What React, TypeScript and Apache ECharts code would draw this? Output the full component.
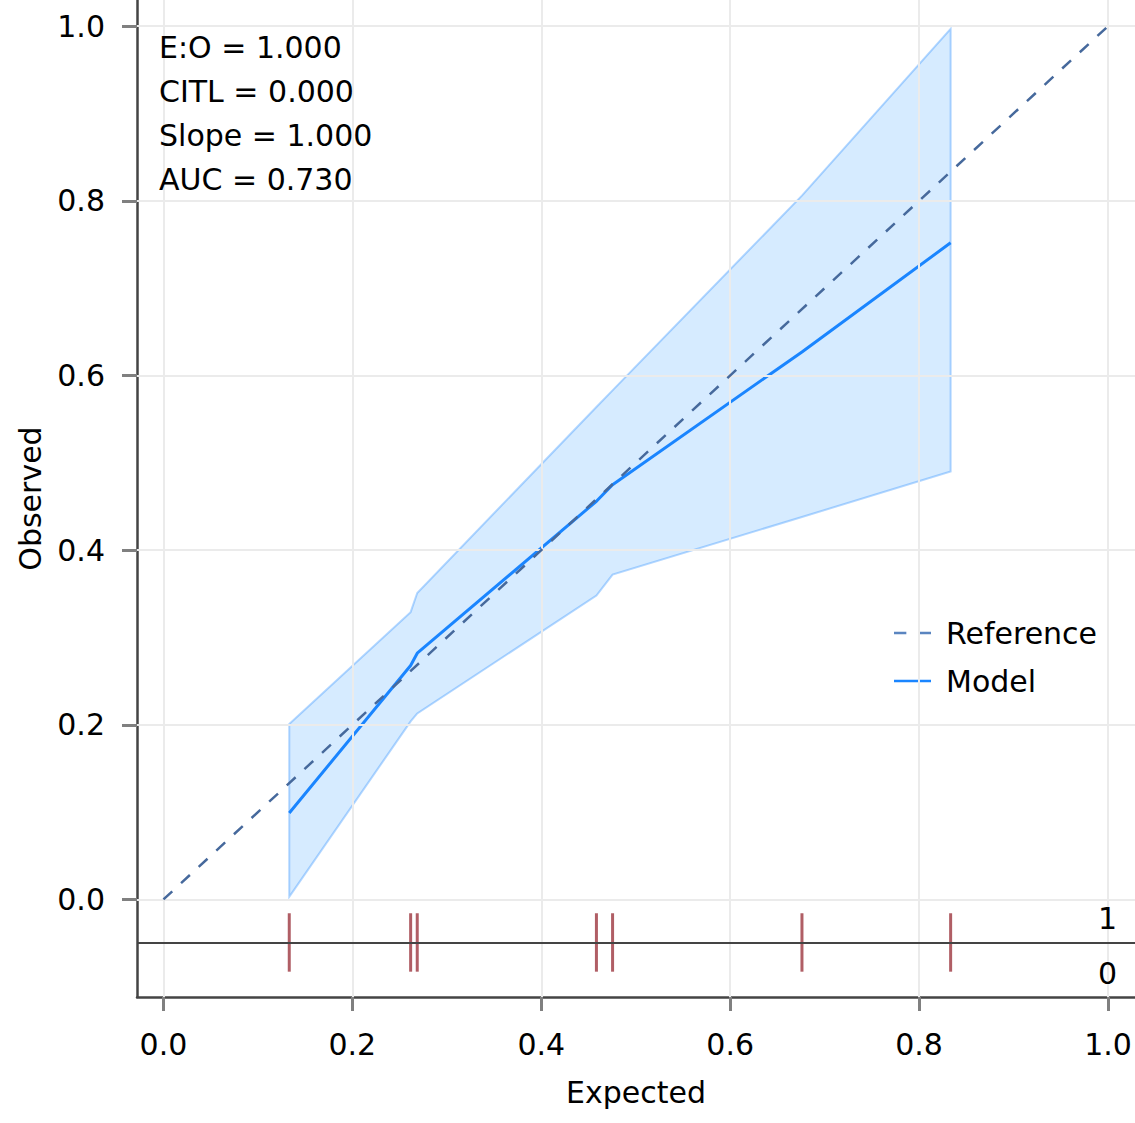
import React, { useEffect, useRef } from "react";
import * as echarts from "echarts";

// Predicted probabilities at which the calibration curve is evaluated
const expected = [0.1332, 0.2617, 0.2687, 0.4584, 0.4755, 0.676, 0.8334];
// Model calibration curve (observed proportion)
const observedModel = [0.099, 0.268, 0.282, 0.456, 0.475, 0.627, 0.752];
// Confidence band around the calibration curve
const upperCI = [0.201, 0.329, 0.351, 0.564, 0.583, 0.806, 0.997];
const lowerCI = [0.003, 0.204, 0.213, 0.348, 0.372, 0.438, 0.49];
// Rug of individual predictions
const rugPredictions = [0.1332, 0.2617, 0.2687, 0.4584, 0.4755, 0.676, 0.8334];
// Perfect calibration line
const referenceLine = [
  [0, 0],
  [1, 1],
];
// Axis ticks
const tickValues = [0, 0.2, 0.4, 0.6, 0.8, 1];
// Performance statistics
const statLines = ["E:O = 1.000", "CITL = 0.000", "Slope = 1.000", "AUC = 0.730"];

const FONT = "DejaVu Sans";
const RUG_TOP = -0.0158;
const RUG_BOTTOM = -0.0827;
const RUG_BASE = -0.0487;

const REF_COLOR = "#46699c";
const MODEL_COLOR = "#1a85ff";

export default function App() {
  const ref = useRef<HTMLDivElement>(null);

  useEffect(() => {
    if (!ref.current) return;
    const chart = echarts.init(ref.current, undefined, { renderer: "svg" });

    const gridStyle = { color: "#ebebeb", width: 2, type: "solid" as const };
    const textEl = (text: string, x: number, y: number, align: string) => ({
      type: "text",
      x,
      y,
      z: 100,
      silent: true,
      style: {
        text,
        font: `30px "${FONT}"`,
        fill: "#000",
        textAlign: align,
        textVerticalAlign: "middle",
      },
    });

    const option = {
      animation: false,
      textStyle: { fontFamily: FONT },
      grid: { left: 137, top: 0, width: 998, height: 997, containLabel: false },
      xAxis: {
        type: "value",
        min: -0.028,
        max: 1.0286,
        name: "Expected",
        nameLocation: "middle",
        nameGap: 80,
        nameTextStyle: { fontSize: 30, color: "#000", fontFamily: FONT },
        axisLine: { show: true, onZero: false, lineStyle: { color: "#444", width: 2.5 } },
        axisTick: {
          show: true,
          customValues: tickValues,
          length: 14,
          lineStyle: { color: "#808080", width: 3 },
        },
        axisLabel: {
          customValues: tickValues,
          formatter: (v: number) => v.toFixed(1),
          fontSize: 30,
          color: "#000",
          margin: 32,
          fontFamily: FONT,
        },
        splitLine: { show: false },
      },
      yAxis: {
        type: "value",
        min: -0.1117,
        max: 1.03,
        name: "Observed",
        nameLocation: "middle",
        nameGap: 92,
        nameRotate: 90,
        nameTextStyle: { fontSize: 30, color: "#000", fontFamily: FONT },
        axisLine: { show: true, onZero: false, lineStyle: { color: "#444", width: 2.5 } },
        axisTick: {
          show: true,
          customValues: tickValues,
          length: 15,
          lineStyle: { color: "#808080", width: 3 },
        },
        axisLabel: {
          customValues: tickValues,
          formatter: (v: number) => v.toFixed(1),
          fontSize: 30,
          color: "#000",
          margin: 32,
          fontFamily: FONT,
        },
        splitLine: { show: false },
      },
      legend: {
        data: [
          { name: "Reference", icon: "path://M0,0H12V2.5H0Z M24,0H36V2.5H24Z" },
          { name: "Model", icon: "path://M0,0H36V2.5H0Z" },
        ],
        orient: "vertical",
        left: 889,
        top: 611,
        itemWidth: 37,
        itemHeight: 3,
        itemGap: 14,
        selectedMode: false,
        textStyle: {
          fontSize: 30,
          color: "#000",
          fontFamily: FONT,
          lineHeight: 34,
          padding: [0, 0, 0, 10],
        },
      },
      graphic: [
        ...statLines.map((t, i) => textEl(t, 159, 47 + i * 44, "left")),
        textEl("1", 1117, 918, "right"),
        textEl("0", 1117, 973, "right"),
      ],
      series: [
        // Grid lines and the rug baseline
        {
          name: "grid",
          type: "line",
          data: [],
          z: 0,
          silent: true,
          markLine: {
            silent: true,
            symbol: ["none", "none"],
            label: { show: false },
            lineStyle: gridStyle,
            emphasis: { disabled: true },
            data: [
              ...tickValues.map((v) => ({ xAxis: v })),
              ...tickValues.map((v) => ({ yAxis: v })),
              {
                yAxis: RUG_BASE,
                lineStyle: { color: "#444", width: 2, type: "solid" },
              },
            ],
          },
        },
        // Confidence band
        {
          name: "band",
          type: "custom",
          z: 2,
          silent: true,
          data: expected.map((x, i) => [x, lowerCI[i], upperCI[i]]),
          encode: { x: 0, y: [1, 2] },
          renderItem: (params: any, api: any) => {
            if (params.dataIndex !== 0) return null;
            const pts: number[][] = [];
            for (let i = 0; i < expected.length; i++) pts.push(api.coord([expected[i], upperCI[i]]));
            for (let i = expected.length - 1; i >= 0; i--) pts.push(api.coord([expected[i], lowerCI[i]]));
            return {
              type: "polygon",
              shape: { points: pts },
              style: {
                fill: "rgba(51,153,255,0.2)",
                stroke: "rgba(40,140,255,0.35)",
                lineWidth: 2,
              },
            };
          },
        },
        // Rug of predictions
        {
          name: "rug",
          type: "custom",
          z: 3,
          silent: true,
          data: rugPredictions.map((x) => [x]),
          encode: { x: 0 },
          renderItem: (params: any, api: any) => {
            const x = api.value(0);
            const a = api.coord([x, RUG_TOP]);
            const b = api.coord([x, RUG_BOTTOM]);
            return {
              type: "line",
              shape: { x1: a[0], y1: a[1], x2: b[0], y2: b[1] },
              style: { stroke: "rgba(150,40,50,0.75)", lineWidth: 3 },
            };
          },
        },
        {
          name: "Model",
          type: "line",
          z: 4,
          symbol: "none",
          data: expected.map((x, i) => [x, observedModel[i]]),
          lineStyle: { color: MODEL_COLOR, width: 3 },
          itemStyle: { color: MODEL_COLOR },
        },
        {
          name: "Reference",
          type: "line",
          z: 5,
          symbol: "none",
          data: referenceLine,
          lineStyle: { color: REF_COLOR, width: 2.5, type: [12, 12] },
          itemStyle: { color: "#5a85c0" },
        },
      ],
    };

    chart.setOption(option as any);
    return () => chart.dispose();
  }, []);

  return (
    <div
      ref={ref}
      style={{ position: "fixed", left: 0, top: 0, width: 1135, height: 1123, background: "#fff" }}
    />
  );
}
